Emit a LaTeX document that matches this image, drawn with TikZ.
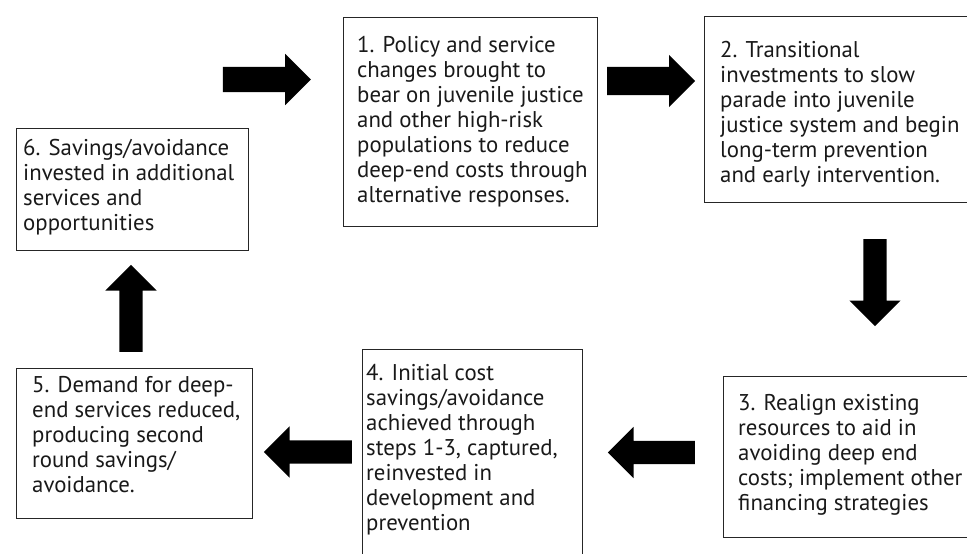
\documentclass[tikz,border=0pt]{standalone}
\usepackage{fontspec}
\setmainfont{PT Sans}
\usetikzlibrary{positioning,shapes.arrows}
\newcommand{\firstline}{\rule{0pt}{17pt}}

\begin{document}
\begin{tikzpicture}[x=1pt,y=-1pt]
    \tikzstyle{box}=[draw=black!85,line width=1pt,rectangle,inner sep=0pt,
                     anchor=north west]
    \tikzstyle{txt}=[align=left,inner sep=0pt,anchor=north west,
                     font=\fontsize{22.8}{25}\selectfont,text=black!90]
    \tikzstyle{bigarrow}=[single arrow,fill=black,draw=none,inner sep=12pt,
                          minimum height=88pt,
                          single arrow head extend=13.5pt,
                          single arrow tip angle=90,anchor=tail]

    \useasboundingbox (0,0) rectangle (967,554);

    % the six boxes (2, 3 and 4 run off the page)
    \node[box,minimum width=254.5pt,minimum height=209pt] (box1) at (342.5,17) {};
    \node[box,minimum width=280pt,minimum height=186pt] (box2) at (704,16) {};
    \node[box,minimum width=260pt,minimum height=161pt] (box3) at (723,376) {};
    \node[box,minimum width=220pt,minimum height=220pt] (box4) at (362,349) {};
    \node[box,minimum width=236pt,minimum height=150pt] (box5) at (16,368) {};
    \node[box,minimum width=232pt,minimum height=122pt] (box6) at (16,128) {};

    % the texts
    \node[txt] (text1) at (357,35) {\firstline 1. Policy and service\\changes brought to\\
        bear on juvenile justice\\and other high-risk\\populations to reduce\\
        deep-end costs through\\alternative responses.};
    \node[txt] (text2) at (720,40) {\firstline 2. Transitional\\investments to slow\\
        parade into juvenile\\justice system and begin\\long-term prevention\\
        and early intervention.};
    \node[txt] (text3) at (738,393) {\firstline 3. Realign existing\\resources to aid in\\
        avoiding deep end\\costs; implement other\\financing strategies};
    \node[txt] (text4) at (366,363) {\firstline 4. Initial cost\\savings/avoidance\\
        achieved through\\steps 1-3, captured,\\reinvested in\\
        development and\\prevention};
    \node[txt] (text5) at (32,375) {\firstline 5. Demand for deep-\\end services reduced,\\
        producing second\\round savings/\\avoidance.};
    \node[txt] (text6) at (23,138) {\firstline 6. Savings/avoidance\\invested in additional\\
        services and\\opportunities};

    % block arrows
    \node[bigarrow,inner sep=12.5pt,single arrow head extend=13pt] (arrow0) at (222.7,79.5) {};
    \node[bigarrow,inner sep=14pt,single arrow head extend=12pt] (arrow1) at (607,81) {};
    \node[bigarrow,shape border rotate=270,inner sep=11.5pt,
          single arrow head extend=14pt,minimum height=87pt] (arrow2) at (875,239) {};
    \node[bigarrow,shape border rotate=180,inner sep=11.5pt,
          single arrow head extend=14pt,minimum height=87pt] (arrow3) at (695,452.5) {};
    \node[bigarrow,shape border rotate=180,inner sep=11.5pt,
          single arrow head extend=14pt] (arrow4) at (352,452) {};
    \node[bigarrow,shape border rotate=90,inner sep=11.5pt,
          single arrow head extend=14pt,minimum height=87pt] (arrow5) at (131,352) {};
\end{tikzpicture}
\end{document}
